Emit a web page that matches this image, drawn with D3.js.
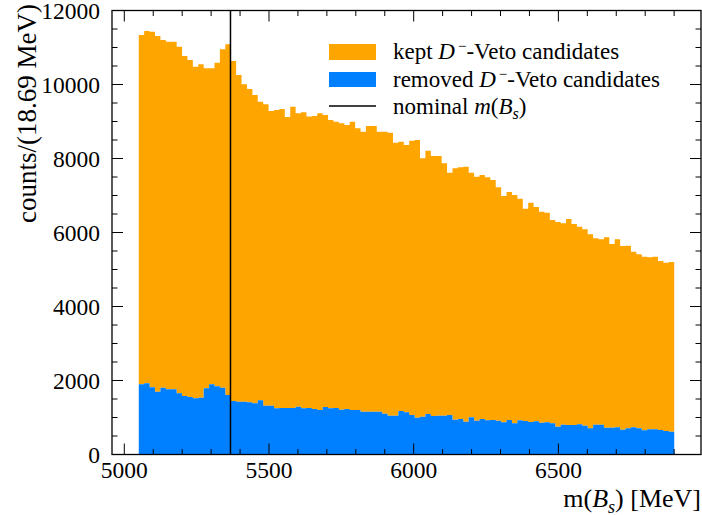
<!DOCTYPE html>
<html lang="en">
<head>
<meta charset="utf-8">
<script src="https://d3js.org/d3.v7.min.js"></script>
<title>D- veto histogram</title>
<style>
    body { margin: 0; background: white; }
</style>
</head>
<body>
<div id="container"></div>
<script>
    // histogram binning, 99 bins of 18.69 MeV
    var binLow = 5050, binWidth = 18.69;
    var nominalMass = 5366.9;

    // removed D- veto candidates (bottom of stack)
    var removed = [1897,1924,1816,1697,1805,1762,1762,1654,1581,1554,1519,1535,1789,1897,1843,1805,1608,1446,1427,1427,
        1411,1384,1465,1319,1319,1249,1257,1257,1257,1292,1249,1257,1230,1203,1284,1249,1257,1211,1230,1203,
        1203,1157,1157,1157,1157,1103,1049,1049,1176,1141,1068,995,1022,1095,1041,1049,1049,1068,941,959,
        886,1005,914,959,924,932,914,870,932,843,924,905,878,897,859,870,843,751,805,797,
        797,816,778,708,805,805,724,724,735,670,708,735,708,654,681,681,662,635,616];

    // kept D- veto candidates (stacked on top)
    var kept = [9441,9522,9611,9614,9398,9395,9395,9368,9189,9108,8962,9011,8649,8541,8746,9146,9478,9189,8830,8578,
        8467,8332,8070,8146,7965,8062,8081,7865,8143,7930,8000,7878,7919,8019,7892,7792,7738,7740,7675,7792,
        7613,7567,7721,7721,7567,7621,7648,7378,7278,7224,7413,7505,6983,7116,7027,7019,6821,6548,6794,6803,
        6892,6611,6594,6595,6568,6487,6308,6116,6163,6171,5989,5738,5927,5792,5703,5665,5495,5533,5444,5568,
        5433,5341,5308,5243,5038,5011,5146,4965,5081,4965,4935,4746,4703,4692,4649,4665,4568,4549,4587];

    var xTicks = [5000, 5500, 6000, 6500];
    var yTicks = [0, 2000, 4000, 6000, 8000, 10000, 12000];

    var W = 702, H = 515;
    var margin = {top: 10.5, right: 1, bottom: 60.5, left: 112},
        width = W - margin.left - margin.right,
        height = H - margin.top - margin.bottom;
    var serif = "'Liberation Serif', 'Times New Roman', Times, serif";

    var svg = d3.select("#container")
        .append("svg")
        .attr("width", W)
        .attr("height", H)
        .attr("font-family", serif)
        .style("font-family", serif);
    var g = svg.append("g")
        .attr("transform", "translate(" + margin.left + "," + margin.top + ")");

    var binHigh = binLow + removed.length * binWidth;
    var pad = 0.05 * (binHigh - binLow);
    var x = d3.scaleLinear().domain([binLow - pad, binHigh + pad]).range([0, width]);
    var y = d3.scaleLinear().domain([0, 12000]).range([height, 0]);

    // bin table: edges and stacked values (last point repeated to close the step)
    var bins = removed.map(function(r, i) {
        return {lo: binLow + i * binWidth, removed: r, kept: kept[i]};
    });
    bins.push({lo: binHigh, removed: removed[removed.length - 1], kept: kept[kept.length - 1]});

    var keptArea = d3.area()
        .curve(d3.curveStepAfter)
        .x(function(d) { return x(d.lo); })
        .y0(function(d) { return y(d.removed); })
        .y1(function(d) { return y(d.removed + d.kept); });
    var removedArea = d3.area()
        .curve(d3.curveStepAfter)
        .x(function(d) { return x(d.lo); })
        .y0(y(0))
        .y1(function(d) { return y(d.removed); });

    g.append("path").datum(bins).attr("d", keptArea).attr("fill", "#ffa500");
    g.append("path").datum(bins).attr("d", removedArea).attr("fill", "#0080ff");

    // nominal B_s mass
    g.append("line")
        .attr("x1", x(nominalMass)).attr("x2", x(nominalMass))
        .attr("y1", 0).attr("y2", height)
        .attr("stroke", "black").attr("stroke-width", 1.5);

    // ticks pointing inwards on all sides
    var xMinor = d3.range(5000, 7000, 100).filter(function(v) { return v % 500 != 0; });
    var yMinor = d3.range(500, 12000, 500).filter(function(v) { return v % 2000 != 0; });
    function addTicks(vals, len, scale, horiz) {
        vals.forEach(function(v) {
            if (horiz) {
                var px = scale(v);
                g.append("line").attr("x1", px).attr("x2", px).attr("y1", height).attr("y2", height - len)
                    .attr("stroke", "black").attr("stroke-width", 1);
                g.append("line").attr("x1", px).attr("x2", px).attr("y1", 0).attr("y2", len)
                    .attr("stroke", "black").attr("stroke-width", 1);
            } else {
                var py = scale(v);
                g.append("line").attr("x1", 0).attr("x2", len).attr("y1", py).attr("y2", py)
                    .attr("stroke", "black").attr("stroke-width", 1);
                g.append("line").attr("x1", width).attr("x2", width - len).attr("y1", py).attr("y2", py)
                    .attr("stroke", "black").attr("stroke-width", 1);
            }
        });
    }
    addTicks(xTicks, 11, x, true);
    addTicks(xMinor, 5.5, x, true);
    addTicks(yTicks, 11, y, false);
    addTicks(yMinor, 5.5, y, false);

    g.append("rect")
        .attr("width", width).attr("height", height)
        .attr("fill", "none").attr("stroke", "black").attr("stroke-width", 1.3);

    // tick labels
    g.selectAll(".xlab").data(xTicks).enter().append("text")
        .attr("x", function(d) { return x(d); })
        .attr("y", height + 23)
        .attr("text-anchor", "middle")
        .style("font-size", "23.5px")
        .text(function(d) { return d; });
    g.selectAll(".ylab").data(yTicks).enter().append("text")
        .attr("x", -12)
        .attr("y", function(d) { return y(d) + 8; })
        .attr("text-anchor", "end")
        .style("font-size", "23.5px")
        .text(function(d) { return d; });

    // axis titles
    var xt = g.append("text")
        .attr("x", width)
        .attr("y", height + 52)
        .attr("text-anchor", "end")
        .style("font-size", "26px");
    xt.append("tspan").text("m(");
    xt.append("tspan").style("font-style", "italic").text("B");
    xt.append("tspan").style("font-style", "italic").style("font-size", "18px").attr("dy", 6).text("s");
    xt.append("tspan").attr("dy", -6).text(") [MeV]");

    svg.append("text")
        .attr("transform", "translate(36,4) rotate(-90)")
        .attr("text-anchor", "end")
        .style("font-size", "27px")
        .text("counts/(18.69 MeV)");

    // legend
    var leg = svg.append("g").attr("transform", "translate(329,44)");
    leg.append("rect").attr("width", 47).attr("height", 16).attr("fill", "#ffa500");
    leg.append("rect").attr("y", 28).attr("width", 47).attr("height", 15).attr("fill", "#0080ff");
    leg.append("line").attr("x1", 0).attr("x2", 47).attr("y1", 62).attr("y2", 62)
        .attr("stroke", "black").attr("stroke-width", 1.5);

    function vetoLabel(sel, prefix) {
        sel.append("tspan").text(prefix);
        sel.append("tspan").style("font-style", "italic").text("D");
        sel.append("tspan").style("font-size", "15px").attr("dy", -8).text("\u2009\u2212");
        sel.append("tspan").attr("dy", 8).text("-Veto candidates");
    }
    var t1 = leg.append("text").attr("x", 64).attr("y", 15).style("font-size", "23px");
    vetoLabel(t1, "kept ");
    var t2 = leg.append("text").attr("x", 64).attr("y", 43).style("font-size", "23px");
    vetoLabel(t2, "removed ");
    var t3 = leg.append("text").attr("x", 64).attr("y", 70).style("font-size", "23px");
    t3.append("tspan").text("nominal ");
    t3.append("tspan").style("font-style", "italic").text("m");
    t3.append("tspan").text("(");
    t3.append("tspan").style("font-style", "italic").text("B");
    t3.append("tspan").style("font-style", "italic").style("font-size", "16px").attr("dy", 5).text("s");
    t3.append("tspan").attr("dy", -5).text(")");
</script>
</body>
</html>
